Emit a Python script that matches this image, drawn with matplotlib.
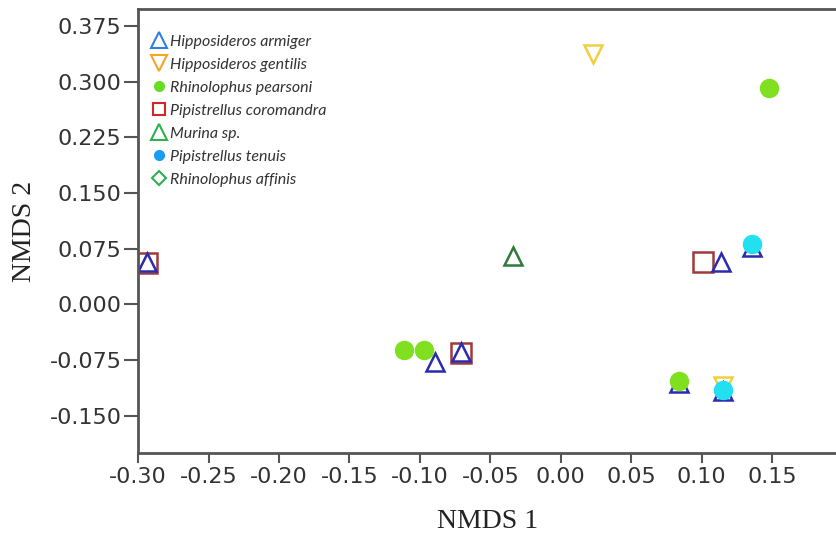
import matplotlib.pyplot as plt
from matplotlib.lines import Line2D

# NMDS coordinates
armiger_x = [-0.294, -0.089, -0.071, 0.114, 0.084, 0.115, 0.136]
armiger_y = [0.057, -0.078, -0.064, 0.057, -0.106, -0.117, 0.078]
gentilis_x = [0.023, 0.115]
gentilis_y = [0.338, -0.110]
pearsoni_x = [0.148, -0.111, -0.097, 0.084]
pearsoni_y = [0.291, -0.061, -0.061, -0.103]
coromandra_x = [-0.294, -0.071, 0.101]
coromandra_y = [0.056, -0.065, 0.057]
murina_x = [-0.034]
murina_y = [0.065]
tenuis_x = [0.136, 0.115]
tenuis_y = [0.082, -0.115]
affinis_x = []
affinis_y = []

species = ["Hipposideros armiger", "Hipposideros gentilis", "Rhinolophus pearsoni",
           "Pipistrellus coromandra", "Murina sp.", "Pipistrellus tenuis",
           "Rhinolophus affinis"]
xticks = [-0.30, -0.25, -0.20, -0.15, -0.10, -0.05, 0.00, 0.05, 0.10, 0.15]
yticks = [-0.150, -0.075, 0.000, 0.075, 0.150, 0.225, 0.300, 0.375]

fig = plt.figure(figsize=(8.37, 5.34), dpi=100)
ax = fig.add_axes([0.165, 0.152, 0.835, 0.831])

ax.plot(coromandra_x, coromandra_y, 's', ms=15, mfc='none', mec='#a03a3a', mew=1.8)
ax.plot(armiger_x, armiger_y, '^', ms=13, mfc='none', mec='#2b2bb0', mew=1.8)
ax.plot(murina_x, murina_y, '^', ms=13, mfc='none', mec='#2f7a3a', mew=1.8)
ax.plot(gentilis_x, gentilis_y, 'v', ms=13, mfc='none', mec='#f0d040', mew=1.8)
ax.plot(pearsoni_x, pearsoni_y, 'o', ms=13, color='#80e020')
ax.plot(tenuis_x, tenuis_y, 'o', ms=13, color='#22e0f0')
ax.plot(affinis_x, affinis_y, 'D', ms=9, mfc='none', mec='#2db050')

# legend proxies (legend colours differ a bit from the points)
handles = [
    Line2D([], [], ls='none', marker='^', ms=11, mfc='none', mec='#2f7fe0', mew=1.5),
    Line2D([], [], ls='none', marker='v', ms=11, mfc='none', mec='#f5a623', mew=1.5),
    Line2D([], [], ls='none', marker='o', ms=7, color='#66dd22'),
    Line2D([], [], ls='none', marker='s', ms=8, mfc='none', mec='#d02828', mew=1.5),
    Line2D([], [], ls='none', marker='^', ms=11, mfc='none', mec='#2db050', mew=1.5),
    Line2D([], [], ls='none', marker='o', ms=7, color='#1a9cf0'),
    Line2D([], [], ls='none', marker='D', ms=7, mfc='none', mec='#2db050', mew=1.5),
]
leg = ax.legend(handles, species, loc='upper left', frameon=False,
                prop={'family': 'Lato', 'style': 'italic', 'size': 11.5},
                handlelength=0.8, handletextpad=0.3, labelspacing=0.55,
                borderaxespad=0.0, bbox_to_anchor=(0.011, 0.957))
for t in leg.get_texts():
    t.set_color('#333333')

ax.set_xlim(-0.30, 0.196)
ax.set_ylim(-0.200, 0.398)
ax.set_xticks(xticks)
ax.set_xticklabels(['%.2f' % v for v in xticks])
ax.set_yticks(yticks)
ax.set_yticklabels(['%.3f' % v for v in yticks])

for s in ['left', 'bottom', 'top']:
    ax.spines[s].set_color('#555555')
    ax.spines[s].set_linewidth(2)
ax.spines['right'].set_visible(False)
ax.tick_params(direction='out', width=1.5, color='#555555',
               labelsize=16, labelcolor='#333333')
ax.tick_params(axis='y', length=10, pad=2)
ax.tick_params(axis='x', length=7, pad=3)
for lab in ax.get_xticklabels() + ax.get_yticklabels():
    lab.set_family('DejaVu Sans')

ax.set_xlabel('NMDS 1', family='Liberation Serif', fontsize=20, color='#222222', labelpad=16)
ax.set_ylabel('NMDS 2', family='Liberation Serif', fontsize=20, color='#222222', labelpad=9)

fig.savefig('out.png', dpi=100)
